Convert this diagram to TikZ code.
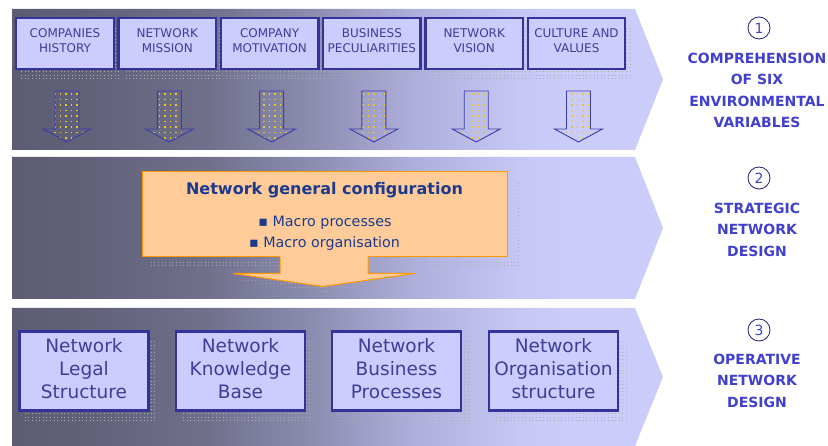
\documentclass[tikz,border=0pt]{standalone}
\usepackage{fontspec}
\setmainfont{DejaVu Sans}
\usetikzlibrary{patterns,calc}

% palette
\definecolor{bandA}{RGB}{92,92,115}
\definecolor{bandB}{RGB}{97,97,122}
\definecolor{bandC}{RGB}{112,112,140}
\definecolor{bandD}{RGB}{140,140,176}
\definecolor{bandE}{RGB}{175,175,220}
\definecolor{bandF}{RGB}{199,199,245}
\definecolor{bandG}{RGB}{204,204,250}
\definecolor{boxfill}{RGB}{204,204,255}
\definecolor{boxline}{RGB}{51,51,153}
\definecolor{boxtext}{RGB}{62,62,150}
\definecolor{labeltext}{RGB}{64,64,204}
\definecolor{ringline}{RGB}{32,32,110}
\definecolor{peach}{RGB}{255,204,153}
\definecolor{peachline}{RGB}{255,153,0}
\definecolor{cfgtext}{RGB}{28,58,140}
\definecolor{dotyellow}{RGB}{235,200,40}
\definecolor{shadowdot}{RGB}{170,170,178}
\definecolor{arrowline}{RGB}{60,60,170}

% dark-to-light band gradient
\pgfdeclarehorizontalshading{bandshade}{100bp}{%
  color(0bp)=(bandA); color(25bp)=(bandA); color(31bp)=(bandB);
  color(40bp)=(bandC); color(48bp)=(bandD); color(56bp)=(bandE);
  color(64bp)=(bandF); color(68bp)=(bandG); color(100bp)=(bandG)}

% dotted drop shadows and dotted arrow bodies
\pgfdeclarepatternformonly{shadowdots}{\pgfqpoint{-1pt}{-1pt}}{\pgfqpoint{1pt}{1pt}}{\pgfqpoint{3.6pt}{3.6pt}}%
  {\pgfpathrectangle{\pgfqpoint{-0.5pt}{-0.5pt}}{\pgfqpoint{1pt}{1pt}}\pgfusepath{fill}}
\pgfdeclarepatternformonly{arrowdots}{\pgfqpoint{-1pt}{-1pt}}{\pgfqpoint{1pt}{1pt}}{\pgfqpoint{5.5pt}{5.5pt}}%
  {\pgfpathrectangle{\pgfqpoint{-0.75pt}{-0.75pt}}{\pgfqpoint{1.5pt}{1.5pt}}\pgfusepath{fill}}

\begin{document}
\begin{tikzpicture}[x=1pt,y=-1pt,
  bandfill/.style={shading=bandshade},
  rowbox/.style={draw=boxline, fill=boxfill, line width=2.4pt, minimum width=97.5pt,
    minimum height=51pt, inner sep=0pt},
  rowtext/.style={inner sep=0pt, align=center, text=boxtext,
    font=\fontsize{12}{15}\selectfont},
  opbox/.style={draw=boxline, fill=boxfill, line width=2.8pt, minimum width=129pt,
    minimum height=79pt, inner sep=0pt},
  optext/.style={inner sep=0pt, align=center, text=boxtext,
    font=\fontsize{18.5}{23}\selectfont},
  shadowfill/.style={pattern=shadowdots, pattern color=shadowdot},
  arrowbody/.style={draw=arrowline, line width=0.9pt, pattern=arrowdots, pattern color=dotyellow},
  numring/.style={circle, draw=ringline, line width=0.8pt, minimum size=22pt, inner sep=0pt,
    text=labeltext, font=\fontsize{14}{14}\selectfont},
  steplabel/.style={anchor=north, inner sep=0pt, align=center, text=labeltext,
    font=\fontsize{14}{21.5}\selectfont\bfseries},
  cfgbox/.style={draw=peachline, fill=peach, line width=1pt, minimum width=365pt,
    minimum height=85pt, inner sep=0pt},
  cfgtitle/.style={text=cfgtext, font=\fontsize{16}{20}\selectfont\bfseries, inner sep=0pt},
  cfgitem/.style={text=cfgtext, font=\fontsize{14.3}{18}\selectfont, inner sep=0pt},
  blockdown/.pic={
    \draw[arrowbody] (-12,0) -- (12,0) -- (12,38) -- (24,38) -- (0,51)
      -- (-24,38) -- (-12,38) -- cycle;
  },
]
\useasboundingbox (0,0) rectangle (828,446);

% ---- three chevron bands ----
\path[bandfill] (12,9) -- (635,9) -- (663,79.5) -- (635,150) -- (12,150) -- cycle;
\path[bandfill] (12,157) -- (635,157) -- (663,228) -- (635,299) -- (12,299) -- cycle;
\path[bandfill] (12,308) -- (635,308) -- (663,377) -- (635,446) -- (12,446) -- cycle;

% ---- band 1: six environmental variables ----
\foreach \cx in {65,167.3,269.6,371.9,474.2,576.5}
  \fill[shadowfill] (\cx-44,26) rectangle (\cx+56,79);
\node[rowbox] (v1) at (65,43.5)    {};
\node[rowbox] (v2) at (167.3,43.5) {};
\node[rowbox] (v3) at (269.6,43.5) {};
\node[rowbox] (v4) at (371.9,43.5) {};
\node[rowbox] (v5) at (474.2,43.5) {};
\node[rowbox] (v6) at (576.5,43.5) {};
\node[rowtext] (v1t) at ([yshift=3pt]v1.center) {COMPANIES\\HISTORY};
\node[rowtext] (v2t) at ([yshift=3pt]v2.center) {NETWORK\\MISSION};
\node[rowtext] (v3t) at ([yshift=3pt]v3.center) {COMPANY\\MOTIVATION};
\node[rowtext] (v4t) at ([yshift=3pt]v4.center) {BUSINESS\\PECULIARITIES};
\node[rowtext] (v5t) at ([yshift=3pt]v5.center) {NETWORK\\VISION};
\node[rowtext] (v6t) at ([yshift=3pt]v6.center) {CULTURE AND\\VALUES};
\foreach \cx in {67,169.3,271.6,373.9,476.2,578.5}
  \pic at (\cx,91) {blockdown};

% ---- band 2: general configuration ----
\node[cfgbox] (cfg) at (324.5,214.5) {};
\begin{scope}[shift={(cfg.south)}]
  \fill[shadowfill] (-174.5,5) rectangle (190.5,9);
  \fill[shadowfill] (190.5,-77) rectangle (194.5,9);
  \fill[shadowfill] (-36.5,7) -- (51.5,7) -- (51.5,23) -- (98.5,23) -- (6.5,36)
    -- (-83.5,23) -- (-36.5,23) -- cycle;
  \fill[peach] (-44.5,-2) -- (-44.5,16) -- (-91.5,16) -- (-1.5,29) -- (90.5,16)
    -- (43.5,16) -- (43.5,-2) -- cycle;
  \draw[peachline, line width=1pt, line join=miter] (-44.5,0) -- (-44.5,16) -- (-91.5,16)
    -- (-1.5,29) -- (90.5,16) -- (43.5,16) -- (43.5,0);
\end{scope}
\node[cfgtitle] (cfgt) at (324.5,190) {Network general configuration};
\node[cfgitem] (cfg1) at (325,223) {▪ Macro processes};
\node[cfgitem] (cfg2) at (324.5,244) {▪ Macro organisation};

% ---- band 3: operative design areas ----
\foreach \cx in {84,240.5,396.5,553.5}
  \fill[shadowfill] (\cx-59,340) rectangle (\cx+73,422);
\node[opbox] (o1) at (84,371)    {};
\node[opbox] (o2) at (240.5,371) {};
\node[opbox] (o3) at (396.5,371) {};
\node[opbox] (o4) at (553.5,371) {};
\node[optext] (o1t) at ([yshift=2.5pt]o1.center) {Network\\Legal\\Structure};
\node[optext] (o2t) at ([yshift=2.5pt]o2.center) {Network\\Knowledge\\Base};
\node[optext] (o3t) at ([yshift=2.5pt]o3.center) {Network\\Business\\Processes};
\node[optext] (o4t) at ([yshift=2.5pt]o4.center) {Network\\Organisation\\structure};

% ---- step labels ----
\node[numring] (n1) at (759,28) {1};
\node[steplabel] (s1) at (757,52.5) {COMPREHENSION\\OF SIX\\ENVIRONMENTAL\\VARIABLES};
\node[numring] (n2) at (759,178) {2};
\node[steplabel] (s2) at (757,202.7) {STRATEGIC\\NETWORK\\DESIGN};
\node[numring] (n3) at (759,330) {3};
\node[steplabel] (s3) at (757,353.7) {OPERATIVE\\NETWORK\\DESIGN};
\end{tikzpicture}
\end{document}
